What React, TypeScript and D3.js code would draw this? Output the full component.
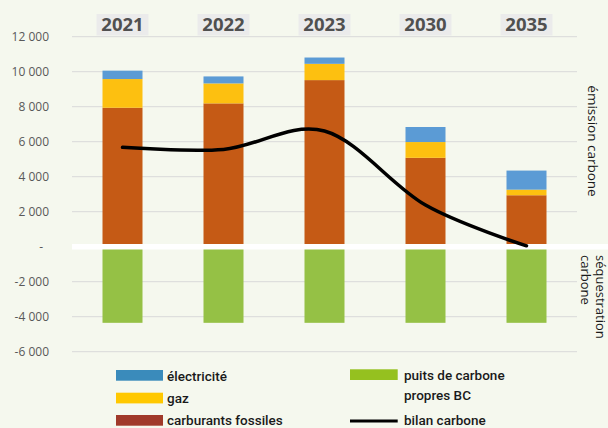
import React from "react";
import * as d3 from "d3";

const years = ["2021", "2022", "2023", "2030", "2035"];
const carburants = [7940, 8190, 9520, 5080, 2940];
const gaz = [1640, 1140, 930, 900, 320];
const electricite = [480, 400, 360, 860, 1090];
const puits = [-4350, -4350, -4350, -4350, -4350];
const bilan = [5680, 5560, 6610, 2380, 50];
const yTicks = [12000, 10000, 8000, 6000, 4000, 2000, 0, -2000, -4000, -6000];

const W = 608;
const H = 428;
const BG = "#f5f8ee";
const C_ELEC = "#5b9bd5";
const C_GAZ = "#fdc010";
const C_CARB = "#c55a15";
const C_PUITS = "#95c145";
const L_ELEC = "#3a8bbb";
const L_GAZ = "#ffc800";
const L_CARB = "#a0392a";
const L_PUITS = "#95c11f";

const fmt = (v: number) => {
  if (v === 0) return "-";
  const s = Math.abs(v).toString();
  const t = s.length > 3 ? s.slice(0, s.length - 3) + " " + s.slice(-3) : s;
  return (v < 0 ? "-" : "") + t;
};

export default function App() {
  const x = d3
    .scaleBand<string>()
    .domain(years)
    .range([72, 577])
    .paddingInner(0.604)
    .paddingOuter(0.302);
  const y = d3.scaleLinear().domain([-6000, 12000]).range([351.7, 36.7]);
  const bw = x.bandwidth();

  const stacks = years.map((yr, i) => {
    const segs = [
      { v: carburants[i], c: C_CARB },
      { v: gaz[i], c: C_GAZ },
      { v: electricite[i], c: C_ELEC },
    ];
    let acc = 0;
    return segs.map((s) => {
      const y0 = acc;
      acc += s.v;
      return { y0, y1: acc, c: s.c, yr };
    });
  });

  const line = d3
    .line<number>()
    .x((_, i) => (x(years[i]) as number) + bw / 2)
    .y((d) => y(d))
    .curve(d3.curveCardinal.tension(0));

  const font = "'Open Sans', sans-serif";
  const lfont = "Roboto, sans-serif";

  return (
    <svg width={W} height={H} style={{ display: "block" }}>
      <style>{`body{margin:0}`}</style>
      <rect x={0} y={0} width={W} height={H} fill={BG} />
      {yTicks
        .filter((t) => t !== 0)
        .map((t) => (
          <line
            key={t}
            x1={72}
            x2={577}
            y1={y(t)}
            y2={y(t)}
            stroke="#d9d9d9"
            strokeWidth={1}
          />
        ))}
      {yTicks.map((t) => (
        <text
          key={"l" + t}
          x={t === 0 ? 43 : 49}
          y={y(t) + 4.3}
          textAnchor="end"
          fontFamily={font}
          fontSize={12}
          fill="#595959"
        >
          {fmt(t)}
        </text>
      ))}
      {years.map((yr) => {
        const cx = (x(yr) as number) + bw / 2;
        return (
          <g key={"yr" + yr}>
            <rect x={cx - 26} y={14} width={52} height={21.5} fill="#ebebeb" />
            <text
              x={cx}
              y={30.5}
              textAnchor="middle"
              fontFamily={font}
              fontWeight="bold"
              fontSize={18.5}
              fill="#505050"
            >
              {yr}
            </text>
          </g>
        );
      })}
      {stacks.map((segs) =>
        segs.map((s, j) => (
          <rect
            key={s.yr + j}
            x={x(s.yr)}
            y={y(s.y1)}
            width={bw}
            height={y(s.y0) - y(s.y1)}
            fill={s.c}
          />
        ))
      )}
      {puits.map((v, i) => (
        <rect
          key={"p" + i}
          x={x(years[i])}
          y={y(0)}
          width={bw}
          height={y(v) - y(0)}
          fill={C_PUITS}
        />
      ))}
      <line x1={72} x2={W} y1={y(0)} y2={y(0)} stroke="#ffffff" strokeWidth={5.5} />
      <path d={line(bilan) || ""} fill="none" stroke="#000" strokeWidth={3.5} strokeLinecap="round" />
      <text
        transform={`translate(588,141) rotate(90)`}
        textAnchor="middle"
        fontFamily={font}
        fontSize={13.5}
        fill="#1a1a1a"
      >
        émission carbone
      </text>
      <text
        transform={`translate(595.5,255) rotate(90)`}
        textAnchor="start"
        fontFamily={font}
        fontSize={13}
        fill="#1a1a1a"
      >
        <tspan x={0} dy={0}>séquestration</tspan>
        <tspan x={0} dy={15}>carbone</tspan>
      </text>
      <rect x={116} y={370} width={47} height={10.7} fill={L_ELEC} />
      <text x={167} y={380.5} fontFamily={lfont} fontWeight={500} fontSize={13.5} fill="#1a1a1a">électricité</text>
      <rect x={116} y={392.7} width={47} height={10.7} fill={L_GAZ} />
      <text x={167} y={403} fontFamily={lfont} fontWeight={500} fontSize={13.5} fill="#1a1a1a">gaz</text>
      <rect x={116} y={415} width={47} height={10.7} fill={L_CARB} />
      <text x={167} y={425} fontFamily={lfont} fontWeight={500} fontSize={13.5} fill="#1a1a1a">carburants fossiles</text>
      <rect x={350} y={369.3} width={47.7} height={10.7} fill={L_PUITS} />
      <text x={404} y={380} fontFamily={lfont} fontWeight={500} fontSize={13.5} fill="#1a1a1a">
        <tspan x={404} dy={0}>puits de carbone</tspan>
        <tspan x={404} dy={19.5}>propres BC</tspan>
      </text>
      <line x1={350} x2={397.7} y1={421} y2={421} stroke="#000" strokeWidth={3} />
      <text x={404} y={425} fontFamily={lfont} fontWeight={500} fontSize={13.5} fill="#1a1a1a">bilan carbone</text>
    </svg>
  );
}
